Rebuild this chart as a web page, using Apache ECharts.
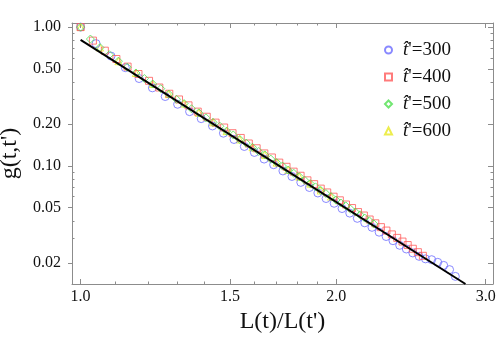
<!DOCTYPE html>
<html>
<head>
<meta charset="utf-8">
<script src="https://cdn.jsdelivr.net/npm/echarts@6/dist/echarts.min.js"></script>
<style>
  html, body { margin: 0; padding: 0; background: #fff; }
  #chart { width: 500px; height: 343px; }
</style>
</head>
<body>
<div id="chart"></div>
<script>
// (log-log axes)
const blueX = [1.000,1.043,1.086,1.129,1.172,1.215,1.258,1.301,1.344,1.387,1.430,1.473,1.516,1.559,1.602,1.645,1.688,1.731,1.774,1.817,1.860,1.903,1.946,1.989,2.032,2.075,2.118,2.161,2.204,2.247,2.290,2.333,2.376,2.419,2.462,2.505,2.548,2.591,2.634,2.677,2.720,2.763];
const blueY = [1.000,0.760,0.618,0.510,0.426,0.365,0.316,0.278,0.246,0.219,0.194,0.172,0.155,0.138,0.125,0.112,0.102,0.0920,0.0839,0.0761,0.0699,0.0638,0.0582,0.0538,0.0493,0.0457,0.0419,0.0389,0.0361,0.0333,0.0310,0.0289,0.0268,0.0252,0.0236,0.0223,0.0214,0.0211,0.0202,0.0192,0.0179,0.0160];

const redX = [1.000,1.034,1.068,1.102,1.136,1.170,1.204,1.238,1.272,1.306,1.340,1.374,1.408,1.442,1.476,1.510,1.544,1.578,1.612,1.646,1.680,1.714,1.748,1.782,1.816,1.850,1.884,1.918,1.952,1.986,2.020,2.054,2.088,2.122,2.156,2.190,2.224,2.258,2.292,2.326,2.360,2.394,2.428,2.462,2.496,2.530];
const redY = [1.000,0.799,0.676,0.589,0.519,0.459,0.410,0.367,0.331,0.301,0.273,0.246,0.226,0.205,0.189,0.172,0.159,0.145,0.134,0.123,0.115,0.1056,0.0985,0.0909,0.0849,0.0787,0.0739,0.0686,0.0644,0.0600,0.0565,0.0527,0.0497,0.0465,0.0439,0.0411,0.0386,0.0362,0.0342,0.0321,0.0303,0.0285,0.0269,0.0253,0.0239,0.0225];

const greenX = [1.000,1.027,1.054,1.081,1.108,1.135,1.162,1.189,1.216,1.243,1.270,1.297,1.324,1.351,1.378,1.405,1.432,1.459,1.486,1.513,1.540,1.567,1.594,1.621,1.648,1.675,1.702,1.729,1.756,1.783,1.810,1.837,1.864,1.891,1.918,1.945,1.972,1.999,2.026,2.053,2.080,2.107,2.134,2.161,2.188,2.215];
const greenY = [1.000,0.820,0.712,0.632,0.568,0.514,0.467,0.426,0.389,0.360,0.329,0.302,0.281,0.258,0.241,0.222,0.206,0.193,0.178,0.167,0.155,0.146,0.136,0.127,0.120,0.112,0.1057,0.0997,0.0934,0.0884,0.0836,0.0786,0.0745,0.0706,0.0665,0.0632,0.0601,0.0567,0.0540,0.0515,0.0487,0.0465,0.0444,0.0421,0.0402,0.0382];

// mostly hidden under the other markers
const yellowX = [1.000,1.054,1.108,1.162,1.216,1.270,1.324,1.378,1.432,1.486,1.540,1.594,1.648,1.702,1.756,1.810,1.864,1.918,1.972];
const yellowY = [1.000,0.712,0.568,0.467,0.389,0.329,0.281,0.241,0.206,0.178,0.155,0.136,0.120,0.1057,0.0934,0.0836,0.0745,0.0665,0.0601];

const fitX = [1.0, 2.84];
const fitY = [0.81, 0.0141];

const tPrimes = [300, 400, 500, 600];

const xTicks = [1.0, 1.5, 2.0, 3.0];
const xMinorTicks = [1.1, 1.2, 1.3, 1.4, 1.6, 1.7, 1.8, 1.9];
const yTicks = [0.02, 0.05, 0.1, 0.2, 0.5, 1.0];
const yMinorTicks = [0.03, 0.04, 0.06, 0.07, 0.08, 0.09, 0.3, 0.4, 0.6, 0.7, 0.8, 0.9];

const xMin = 0.977, xMax = 3.06;
const yMin = 0.0141, yMax = 1.07;

const frame = '#8c8c8c';
const serif = '"Liberation Serif", "Times New Roman", serif';
const lg = v => Math.log10(v);
const pairs = (xs, ys) => xs.map((x, i) => [x, ys[i]]);

function tickAxis(pos, min, max, ticks, len, inside, line, labels) {
  return {
    type: 'value', position: pos, min: lg(min), max: lg(max),
    axisLine: { show: line, onZero: false, lineStyle: { color: frame, width: 1 } },
    axisTick: { show: true, inside: inside, length: len, customValues: ticks.map(lg),
      lineStyle: { color: frame, width: 1 } },
    axisLabel: labels ? labels : { show: false },
    splitLine: { show: false }
  };
}

const xLabel = {
  show: true, customValues: xTicks.map(lg), margin: 5,
  formatter: v => Math.pow(10, v).toFixed(1),
  fontFamily: serif, fontSize: 16, color: '#111'
};
const yLabel = {
  show: true, customValues: yTicks.map(lg), margin: 11,
  formatter: v => Math.pow(10, v).toFixed(2),
  fontFamily: serif, fontSize: 16, color: '#111'
};

const xBottom = tickAxis('bottom', xMin, xMax, xTicks, 5, true, true, xLabel);
xBottom.name = "L(t)/L(t')";
xBottom.nameLocation = 'middle';
xBottom.nameGap = 14;
xBottom.nameTextStyle = { fontFamily: serif, fontSize: 24, color: '#111' };

const yLeft = tickAxis('left', yMin, yMax, yTicks, 4, false, true, yLabel);
yLeft.name = "g(t,t')";
yLeft.nameLocation = 'middle';
yLeft.nameGap = 48;
yLeft.nameTextStyle = { fontFamily: serif, fontSize: 24, color: '#111' };

const markers = [
  { x: blueX, y: blueY, symbol: 'circle', size: 8, color: '#6c6cff' },
  { x: redX, y: redY, symbol: 'rect', size: 7, color: '#ff5a5a' },
  { x: greenX, y: greenY, symbol: 'diamond', size: 8, color: '#4fe04f' },
  { x: yellowX, y: yellowY, symbol: 'triangle', size: 7, color: '#e8e820' }
];

const names = tPrimes.map(t => "t\u0302'=" + t);

const scatter = markers.map((m, i) => ({
  name: names[i],
  type: 'scatter',
  xAxisIndex: 0, yAxisIndex: 0,
  symbol: m.symbol,
  symbolSize: m.size,
  z: i === 3 ? 1 : 2 + i,
  itemStyle: { color: 'rgba(0,0,0,0)', borderColor: m.color, borderWidth: 1 },
  data: pairs(m.x, m.y)
}));

const chart = echarts.init(document.getElementById('chart'), null, { renderer: 'canvas' });

chart.setOption({
  animation: false,
  backgroundColor: '#fff',
  textStyle: { fontFamily: serif },
  grid: { left: 72, right: 7, top: 23, bottom: 59, containLabel: false, outerBoundsMode: 'none' },
  legend: {
    orient: 'vertical', left: 384, top: 40, padding: 0,
    itemWidth: 7, itemHeight: 7, itemGap: 7,
    data: names,
    formatter: n => '{i|t\u0302}{n|' + n.slice(2) + '}',
    textStyle: {
      fontFamily: serif, fontSize: 19, color: '#111', lineHeight: 20,
      rich: {
        i: { fontFamily: serif, fontStyle: 'italic', fontSize: 19, color: '#111', padding: [0, 0, 0, 6] },
        n: { fontFamily: serif, fontSize: 19, color: '#111' }
      }
    }
  },
  xAxis: [
    { type: 'log', logBase: 10, min: xMin, max: xMax, show: false },
    xBottom,
    tickAxis('bottom', xMin, xMax, xMinorTicks, 2.5, true, false),
    tickAxis('top', xMin, xMax, xTicks, 5, true, true),
    tickAxis('top', xMin, xMax, xMinorTicks, 2.5, true, false)
  ],
  yAxis: [
    { type: 'log', logBase: 10, min: yMin, max: yMax, show: false },
    yLeft,
    tickAxis('left', yMin, yMax, yMinorTicks, 2.5, true, false),
    tickAxis('right', yMin, yMax, yTicks, 5, true, true),
    tickAxis('right', yMin, yMax, yMinorTicks, 2.5, true, false)
  ],
  series: scatter.concat([{
    name: 'fit',
    type: 'line',
    xAxisIndex: 0, yAxisIndex: 0,
    z: 10,
    symbol: 'none',
    lineStyle: { color: '#000', width: 2 },
    data: pairs(fitX, fitY)
  }])
});
</script>
</body>
</html>
